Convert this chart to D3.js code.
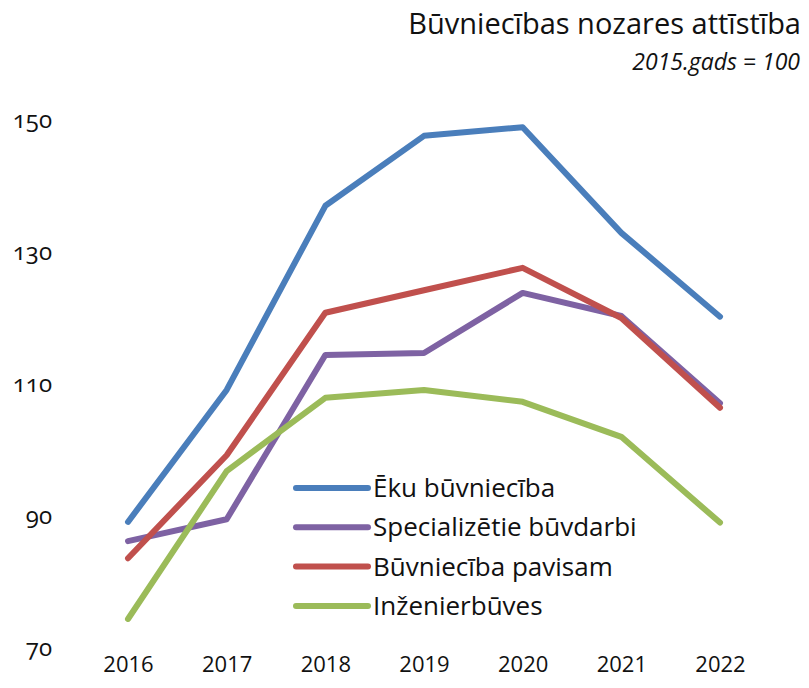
<!DOCTYPE html>
<html>
<head>
<meta charset="utf-8">
<script src="https://cdn.jsdelivr.net/npm/d3@7"></script>
<style>
  body { margin: 0; background: #fff; }
  svg { font-family: "Open Sans", Lato, sans-serif; }
  .y.axis text { font-variant-numeric: oldstyle-nums; }
</style>
</head>
<body>
<script>
var years = ["2016", "2017", "2018", "2019", "2020", "2021", "2022"];
var yTicks = [70, 90, 110, 130, 150];

var ekuBuvn = [89.1, 109.1, 137.0, 147.6, 148.9, 132.9, 120.2];
var specBuvd = [86.2, 89.5, 114.4, 114.7, 123.8, 120.3, 107.1];
var buvnPavisam = [83.6, 99.2, 120.8, 124.2, 127.6, 120.0, 106.4];
var inzBuves = [74.4, 96.8, 107.9, 109.1, 107.3, 102.0, 89.0];

var seriesNames = ["Ēku būvniecība", "Specializētie būvdarbi", "Būvniecība pavisam", "Inženierbūves"];
var seriesColors = ["#4a7ebb", "#7e62a3", "#c0504d", "#9bbb59"];
var seriesValues = [ekuBuvn, specBuvd, buvnPavisam, inzBuves];

var width = 809, height = 688;

var svg = d3.select("body").append("svg")
    .attr("width", width)
    .attr("height", height);

var x = d3.scalePoint().domain(years).range([128, 720]);
var y = d3.scaleLinear().domain([70, 150]).range([648, 120]);

// title
svg.append("text")
    .attr("x", 801)
    .attr("y", 34)
    .attr("text-anchor", "end")
    .style("font-size", "29px")
    .style("fill", "#111")
    .text("Būvniecības nozares attīstība");

svg.append("text")
    .attr("x", 800)
    .attr("y", 70)
    .attr("text-anchor", "end")
    .style("font-size", "23px")
    .style("font-style", "italic")
    .style("fill", "#111")
    .text("2015.gads = 100");

// axes
svg.append("g")
    .attr("class", "y axis")
    .attr("transform", "translate(56,0)")
    .call(d3.axisLeft(y).tickValues(yTicks).tickSize(0).tickPadding(4));

svg.append("g")
    .attr("class", "x axis")
    .attr("transform", "translate(0,655)")
    .call(d3.axisBottom(x).tickSize(0).tickPadding(1));

svg.selectAll(".axis .domain").remove();
svg.selectAll(".axis text")
    .style("font-family", "\"Open Sans\", Lato, sans-serif")
    .style("fill", "#111");
svg.selectAll(".y.axis text").style("font-size", "24px");
svg.selectAll(".x.axis text").style("font-size", "22px");

// lines
var line = d3.line()
    .x(function(d, i) { return x(years[i]); })
    .y(function(d) { return y(d); });

seriesValues.forEach(function(vals, k) {
    svg.append("path")
        .datum(vals)
        .attr("d", line)
        .attr("fill", "none")
        .attr("stroke", seriesColors[k])
        .attr("stroke-width", 6)
        .attr("stroke-linejoin", "round")
        .attr("stroke-linecap", "round");
});

// legend
var legend = svg.append("g")
    .attr("transform", "translate(296,488)");

seriesNames.forEach(function(name, k) {
    var g = legend.append("g").attr("transform", "translate(0," + (k * 39.3) + ")");
    g.append("line")
        .attr("x1", 0).attr("x2", 72)
        .attr("y1", 0).attr("y2", 0)
        .attr("stroke", seriesColors[k])
        .attr("stroke-width", 6)
        .attr("stroke-linecap", "round");
    g.append("text")
        .attr("x", 77)
        .attr("y", 0)
        .attr("dy", "0.35em")
        .style("font-size", "26px")
        .style("fill", "#111")
        .text(name);
});
</script>
</body>
</html>
